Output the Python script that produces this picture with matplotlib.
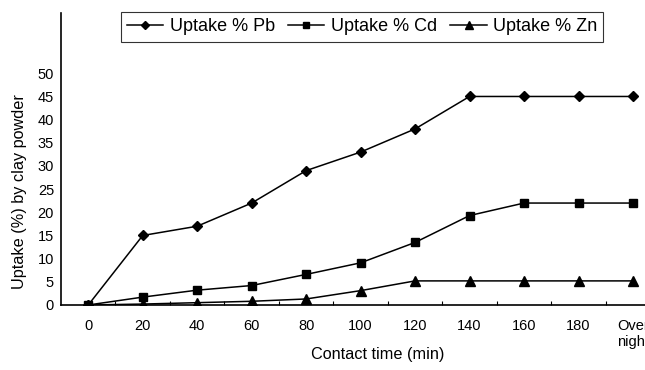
import matplotlib.pyplot as plt
import numpy as np

plt.rcParams['font.family'] = ['Liberation Sans', 'DejaVu Sans']

# data
time_labels = ['0', '20', '40', '60', '80', '100', '120', '140', '160', '180', 'Over\nnight']
uptake_pb = [0, 15, 17, 22, 29, 33, 38, 45, 45, 45, 45]
uptake_cd = [0, 1.7, 3.2, 4.2, 6.6, 9.1, 13.5, 19.3, 22, 22, 22]
uptake_zn = [0, 0.2, 0.5, 0.8, 1.3, 3.1, 5.2, 5.2, 5.2, 5.2, 5.2]

x = np.arange(len(time_labels))

fig = plt.figure(figsize=(6.45, 3.7), dpi=100)
ax = fig.add_axes([0.0946, 0.1757, 0.929, 0.789])

ax.plot(x, uptake_pb, color='black', lw=1.1, marker='D', ms=5, label='Uptake % Pb')
ax.plot(x, uptake_cd, color='black', lw=1.1, marker='s', ms=6, label='Uptake % Cd')
ax.plot(x, uptake_zn, color='black', lw=1.1, marker='^', ms=6.5, label='Uptake % Zn')

ax.set_xlim(-0.5, len(time_labels) - 0.5)
ax.set_ylim(0, 63)
ax.set_yticks(np.arange(0, 55, 5))
ax.set_xticks(x)
ax.set_xticklabels(time_labels, fontsize=10.5, va='top')
ax.set_xticks(np.arange(0.5, len(time_labels) - 0.5, 1), minor=True)
ax.tick_params(axis='x', which='major', length=0, pad=10)
ax.tick_params(axis='x', which='minor', direction='in', length=3, width=0.8)
ax.tick_params(axis='y', length=0, pad=5, labelsize=10.5)

for s in ['top', 'right']:
    ax.spines[s].set_visible(False)
ax.spines['left'].set_linewidth(1.2)
ax.spines['bottom'].set_linewidth(1.2)

ax.set_xlabel('Contact time (min)', fontsize=11.7, va='center')
ax.set_ylabel('Uptake (%) by clay powder', fontsize=11.7, va='center')
ax.xaxis.set_label_coords(0.529, -0.171)
ax.yaxis.set_label_coords(-0.07, 0.387)

leg = ax.legend(loc='upper left', bbox_to_anchor=(0.100, 1.004), borderaxespad=0,
                ncol=3, fontsize=13, frameon=True, fancybox=False, edgecolor='black',
                handlelength=2.0, handletextpad=0.35, columnspacing=0.75, borderpad=0.35,
                markerscale=0.8)
leg.get_frame().set_linewidth(0.8)

fig.savefig('out.png', dpi=100)
